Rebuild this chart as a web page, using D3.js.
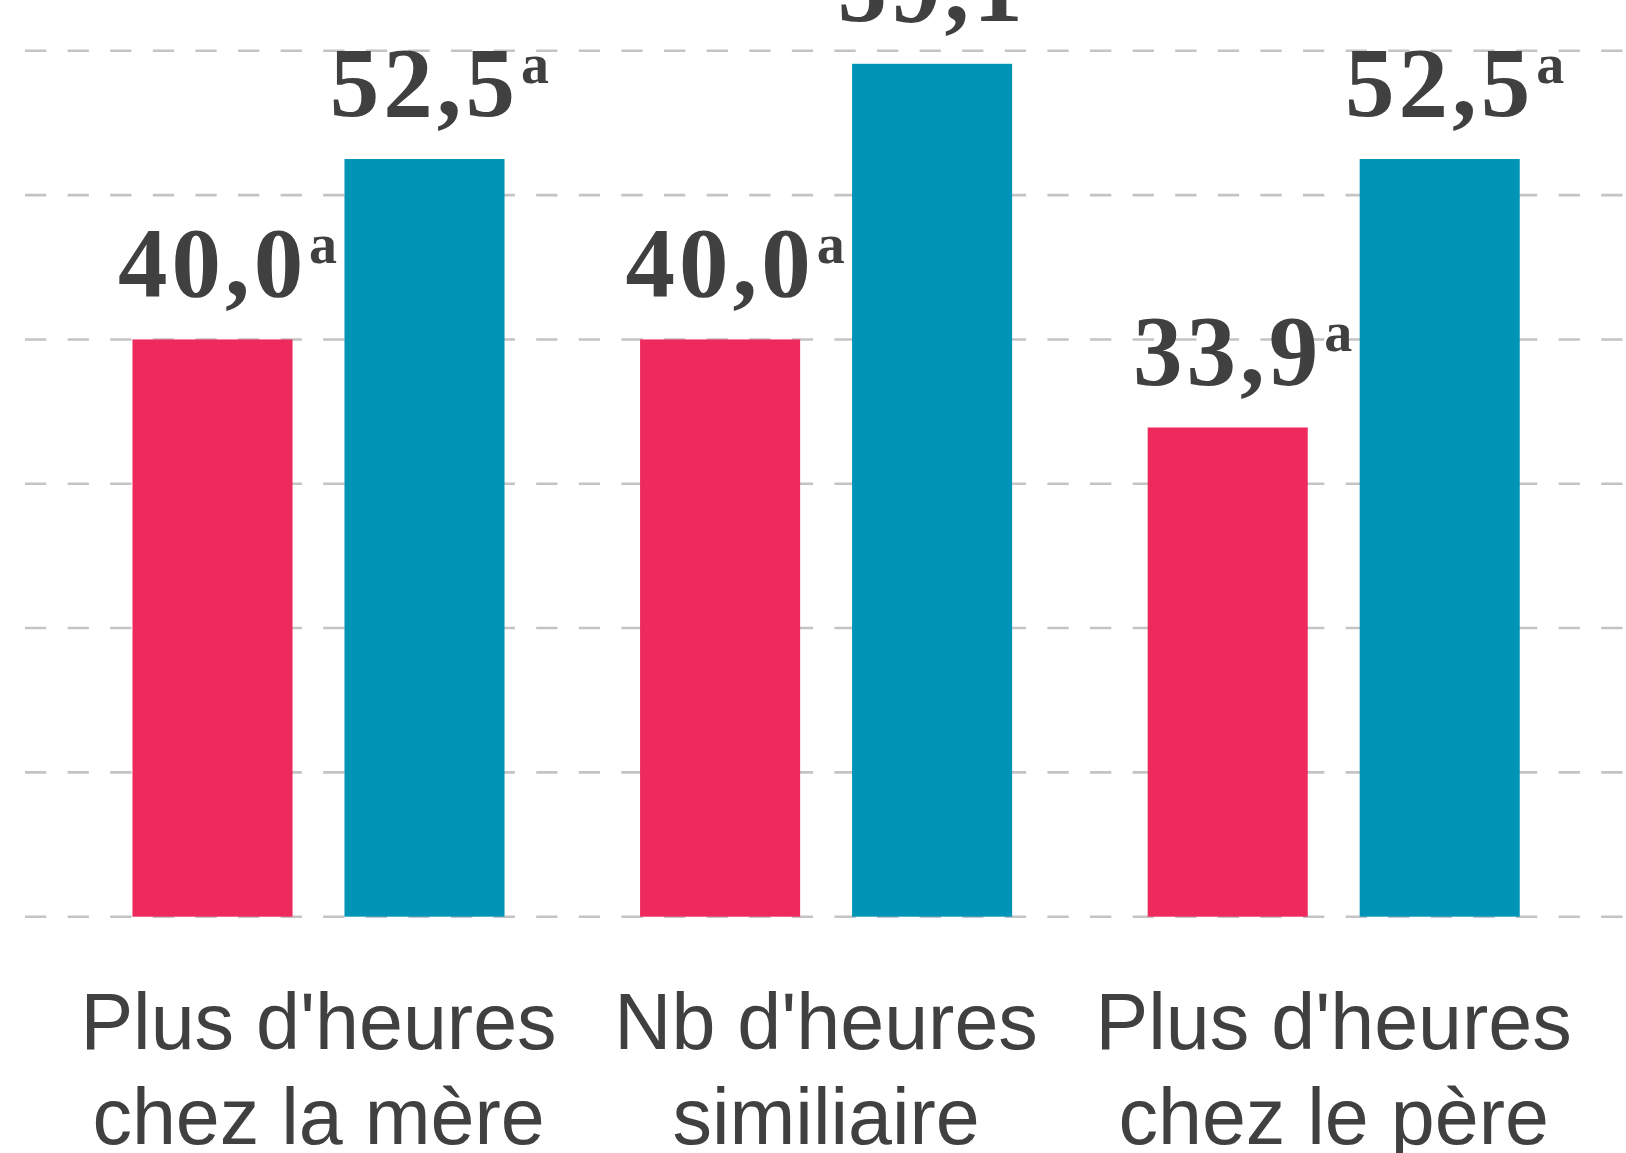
<!DOCTYPE html>
<meta charset="utf-8" />
<script src="https://d3js.org/d3.v7.min.js"></script>
<body style="margin: 0; background-color: #ffffff">
  <div id="my_dataviz"></div>
  <script>
    // data
    var groups = ["mere", "similaire", "pere"];
    var groupLabels = [
      ["Plus d'heures", "chez la mère"],
      ["Nb d'heures", "similiaire"],
      ["Plus d'heures", "chez le père"]
    ];
    var subgroups = ["rouge", "bleu"];
    var valuesRouge = [40.0, 40.0, 33.9];
    var valuesBleu = [52.5, 59.1, 52.5];
    var labelsRouge = ["40,0", "40,0", "33,9"];
    var labelsBleu = ["52,5", "59,1", "52,5"];
    var supRouge = ["a", "a", "a"];
    var supBleu = ["a", "", "a"];
    var gridTicks = [0, 10, 20, 30, 40, 50, 60];

    var width = 1626,
      height = 1153;

    var svg = d3
      .select("#my_dataviz")
      .append("svg")
      .attr("width", width)
      .attr("height", height)
      .style("display", "block");

    var x = d3
      .scaleBand()
      .domain(groups)
      .range([64.7, 1587.5])
      .paddingInner(0.267)
      .paddingOuter(0.1335);

    var xSubgroup = d3
      .scaleBand()
      .domain(subgroups)
      .range([0, x.bandwidth()])
      .paddingInner(0.245);

    var y = d3.scaleLinear().domain([0, 60]).range([916.7, 50.8]);

    var color = d3.scaleOrdinal().domain(subgroups).range(["#ee295b", "#0094b7"]);

    // dashed grid
    svg
      .append("g")
      .selectAll("line")
      .data(gridTicks)
      .enter()
      .append("line")
      .attr("x1", 25)
      .attr("x2", width)
      .attr("y1", function (d) { return y(d); })
      .attr("y2", function (d) { return y(d); })
      .attr("stroke", "#c4c4c6")
      .attr("stroke-width", 2.6)
      .attr("stroke-dasharray", "21.3,21.3");

    var data = groups.map(function (g, i) {
      return {
        group: g,
        items: [
          { key: "rouge", value: valuesRouge[i], label: labelsRouge[i], sup: supRouge[i] },
          { key: "bleu", value: valuesBleu[i], label: labelsBleu[i], sup: supBleu[i] }
        ]
      };
    });

    var g = svg
      .append("g")
      .selectAll("g")
      .data(data)
      .enter()
      .append("g")
      .attr("transform", function (d) {
        return "translate(" + x(d.group) + ",0)";
      });

    g.selectAll("rect")
      .data(function (d) { return d.items; })
      .enter()
      .append("rect")
      .attr("x", function (d) { return xSubgroup(d.key); })
      .attr("y", function (d) { return y(d.value); })
      .attr("width", xSubgroup.bandwidth())
      .attr("height", function (d) { return y(0) - y(d.value); })
      .attr("fill", function (d) { return color(d.key); });

    // value labels with superscript
    g.selectAll(".val")
      .data(function (d) { return d.items; })
      .enter()
      .append("g")
      .attr("class", "val")
      .each(function (d) {
        var cx = xSubgroup(d.key) + xSubgroup.bandwidth() / 2;
        var base = y(d.value) - 43;
        var t = d3
          .select(this)
          .append("text")
          .attr("x", cx)
          .attr("y", base)
          .attr("text-anchor", "middle")
          .style("font-family", "'Liberation Serif', serif")
          .style("font-weight", "bold")
          .style("font-size", "99px")
          .style("letter-spacing", "4px")
          .style("fill", "#404040")
          .text(d.label);
        if (d.sup) {
          var w = t.node().getComputedTextLength();
          d3.select(this)
            .append("text")
            .attr("x", cx + w / 2 + 2)
            .attr("y", base - 33)
            .style("font-family", "'Liberation Serif', serif")
            .style("font-weight", "bold")
            .style("font-size", "56px")
            .style("fill", "#404040")
            .text(d.sup);
        }
      });

    // category labels
    svg
      .append("g")
      .selectAll("text")
      .data(groups)
      .enter()
      .append("text")
      .attr("text-anchor", "middle")
      .style("font-family", "'Liberation Sans', Arial, sans-serif")
      .style("font-size", "79px")
      .style("fill", "#404040")
      .each(function (d, i) {
        var cx = x(d) + x.bandwidth() / 2;
        var el = d3.select(this);
        groupLabels[i].forEach(function (line, j) {
          el.append("tspan")
            .attr("x", cx)
            .attr("y", 1049 + j * 95)
            .text(line);
        });
      });
  </script>
</body>
